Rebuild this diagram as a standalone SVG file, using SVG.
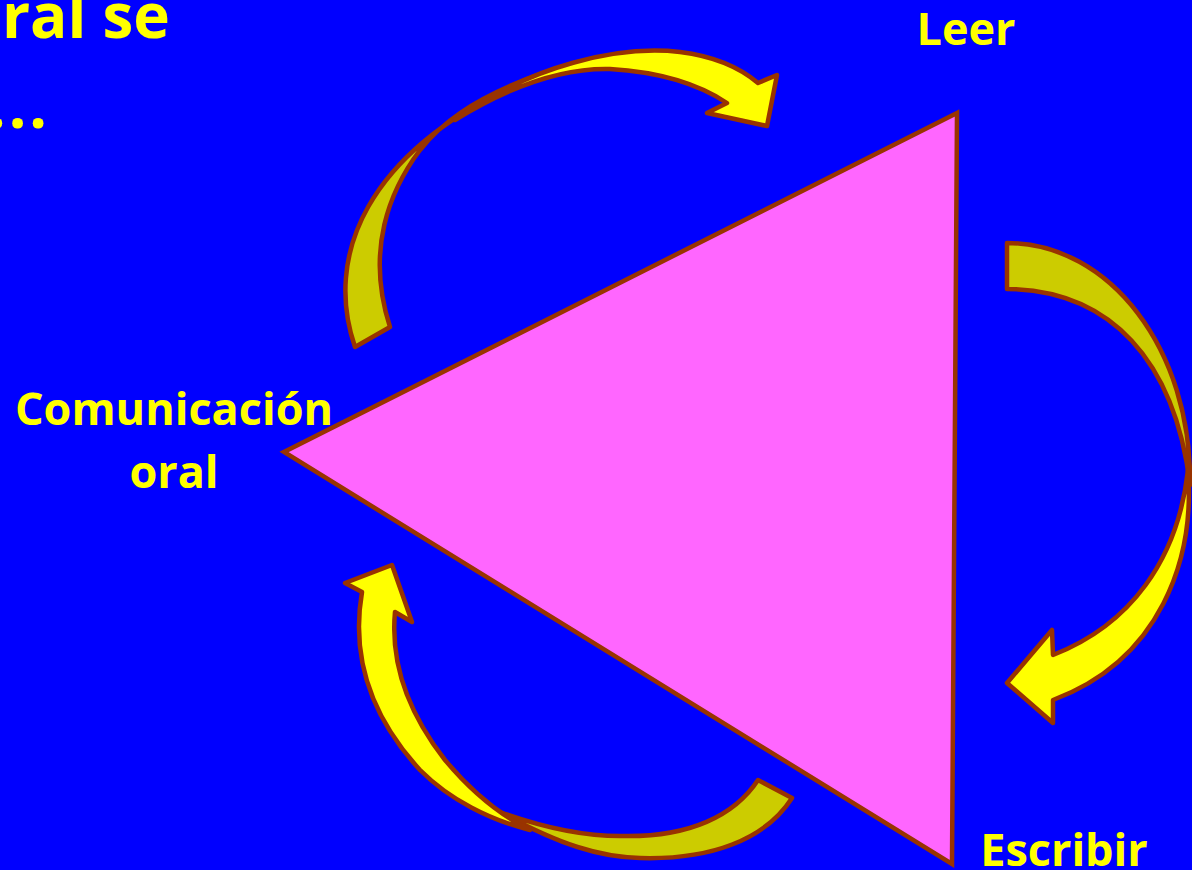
<svg xmlns="http://www.w3.org/2000/svg" width="1192" height="870" viewBox="0 0 1192 870">
<style>
.t{font-family:"Open Sans","Liberation Sans",sans-serif;font-weight:bold;fill:#FFFF00;font-size:45px}
.h{font-family:"Open Sans","Liberation Sans",sans-serif;font-weight:bold;fill:#FFFF00;font-size:62px}
.dk{fill:#CCCC00;stroke:#993300;stroke-width:4.5;stroke-linejoin:round}
.lt{fill:#FFFF00;stroke:#993300;stroke-width:4.5;stroke-linejoin:round}
</style>
<rect width="1192" height="870" fill="#0000FF"/>
<g id="title">
<text class="h" x="170" y="38" text-anchor="end">ral se</text>
<text class="h" x="50" y="128" text-anchor="end" letter-spacing="3">...</text>
</g>
<g id="triangle">
<polygon points="957,113 284,452 952,864" fill="#FF66FF" stroke="#993300" stroke-width="4.5" stroke-linejoin="miter"/>
</g>
<g id="connectors">
<g id="arrow-top">
<path class="dk" d="M355,347 C325,260 360,150 537,75 C470,100 440,125 420,150 C390,190 365,250 390,327 Z"/>
<path class="lt" d="M455,120 C530,65 620,45 680,52 C720,57 745,72 758,83 L777,75 L767,126 L707,113 L727,103 C700,85 660,72 610,69 C570,68 520,80 455,120 Z"/>
</g>
<g id="arrow-right">
<path class="dk" d="M1007,243 C1110,243 1192,350 1190,485 C1175,360 1110,290 1007,289 Z"/>
<path class="lt" d="M1188,470 C1195,560 1160,660 1053,700 L1053,723 L1007,683 L1052,630 L1053,655 C1130,625 1178,560 1188,470 Z"/>
</g>
<g id="arrow-bottom">
<path class="dk" d="M792,798 C765,840 710,860 640,858 C600,857 560,845 500,812 C550,830 590,836 620,836 C690,838 735,815 758,780 Z"/>
<path class="lt" d="M395,612 L412,622 L392,565 L345,583 L362,592 C352,650 365,710 420,770 C450,800 490,820 530,830 C500,815 470,790 445,760 C410,715 390,665 395,612 Z"/>
</g>
</g>
<g id="node-leer"><text class="t" x="966" y="45" text-anchor="middle">Leer</text></g>
<g id="node-oral">
<text class="t" x="174" y="425" text-anchor="middle">Comunicación</text>
<text class="t" x="174" y="488" text-anchor="middle">oral</text>
</g>
<g id="node-escribir"><text class="t" x="1064" y="866" text-anchor="middle">Escribir</text></g>
</svg>
